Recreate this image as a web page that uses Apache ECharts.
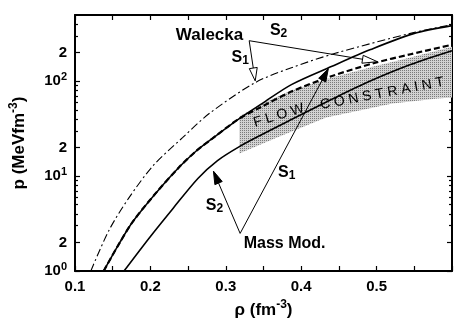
<!DOCTYPE html>
<html><head><meta charset="utf-8">
<script src="https://cdn.jsdelivr.net/npm/echarts@6/dist/echarts.min.js"></script>
<style>html,body{margin:0;padding:0;background:#fff}#c{width:468px;height:327px}</style>
</head><body><div id="c"></div>
<script>
// ---- data (rho in fm^-3, p in MeV fm^-3) ----
const waleckaS1 = [[0.121,1],[0.145,2.68],[0.171,5.83],[0.204,13.0],[0.243,25.6],[0.278,45.7],[0.339,96.9],[0.387,139],[0.444,196],[0.549,326],[0.600,395]];
const waleckaS2 = [[0.138,1],[0.158,1.91],[0.177,3.34],[0.208,6.74],[0.238,12.4],[0.260,18.2],[0.282,24.9],[0.316,39.5],[0.348,54.2],[0.387,77.9],[0.440,113],[0.496,155],[0.545,193],[0.600,243]];
const massModS1 = [[0.138,1],[0.158,1.91],[0.177,3.34],[0.208,6.74],[0.238,12.4],[0.260,18.2],[0.282,24.9],[0.316,39.5],[0.348,58.2],[0.387,92.3],[0.440,143],[0.492,216],[0.549,318],[0.600,386]];
const massModS2 = [[0.165,1],[0.199,2.26],[0.230,4.57],[0.263,9.46],[0.289,14.6],[0.318,20.5],[0.348,27.5],[0.387,39.5],[0.440,64.2],[0.490,99.3],[0.545,150],[0.600,210]];
const flowTop = [[0.318,42.5],[0.348,58.2],[0.387,79.8],[0.440,109],[0.496,143],[0.545,178],[0.600,232]];
const flowBottom = [[0.318,17.3],[0.368,25.5],[0.433,41.5],[0.521,58.2],[0.581,65.8],[0.600,67.4]];

// ---- ticks ----
const xTickValues = [0.1,0.15,0.2,0.25,0.3,0.35,0.4,0.45,0.5,0.55,0.6];
const xLabelValues = [0.1,0.2,0.3,0.4,0.5];
const xTickLabels = ['0.1','0.2','0.3','0.4','0.5'];
const yLabelValues = [1,2,10,20,100,200];
const yTickLabels = ['10^0','2','10^1','2','10^2','2'];
const yMinorTicks = [3,4,5,6,7,8,9,30,40,50,60,70,80,90,300,400];

// ---- annotations (data coordinates) ----
const waleckaJunction = [0.331,268];
const waleckaS1Tip = [0.339,101];
const waleckaS2Tip = [0.501,161];
const massJunction = [0.319,2.49];
const massS1Tip = [0.436,136];
const massS2Tip = [0.2836,11.3];
const textLabels = [
  {text:'{b|Walecka}', at:[0.2784,303], size:17, rot:0},
  {text:'{b|S}{u|2}', at:[0.370,342], size:16, rot:0},
  {text:'{b|S}{u|1}', at:[0.319,178], size:16, rot:0},
  {text:'{b|Mass Mod.}', at:[0.378,1.96], size:16, rot:0},
  {text:'{b|S}{u|1}', at:[0.3807,10.9], size:16, rot:0},
  {text:'{b|S}{u|2}', at:[0.285,4.92], size:16, rot:0},
  {text:'{n|F L O W}', at:[0.3702,43.5], size:14, rot:17},
  {text:'{n|C O N S T R A I N T}', at:[0.5073,74.2], size:14, rot:10.6}
];

const FONT = 'Liberation Sans';
const chart = echarts.init(document.getElementById('c'));

// stipple pattern for the flow band
const pc = document.createElement('canvas'); pc.width = 2; pc.height = 2;
const pctx = pc.getContext('2d');
pctx.fillStyle = '#d2d2d2'; pctx.fillRect(0,0,2,2);
pctx.fillStyle = '#7a7a7a'; pctx.fillRect(0,0,1,1);
const bandFill = {type:'pattern', image: pc, repeat:'repeat'};

function xFmt(v){
  const i = xLabelValues.findIndex(t => Math.abs(t - v) < 1e-6);
  return i < 0 ? '' : xTickLabels[i];
}
function yFmt(v){
  const i = yLabelValues.findIndex(t => Math.abs(t - v) / t < 1e-6);
  if (i < 0) return '';
  const s = yTickLabels[i];
  if (s.indexOf('^') >= 0) { const p = s.split('^'); return '{b|' + p[0] + '}{s|' + p[1] + '}'; }
  return '{b|' + s + '}';
}
const tickRich = {
  b:{fontSize:15, fontWeight:'bold', fontFamily:FONT, color:'#000'},
  s:{fontSize:11, fontWeight:'bold', fontFamily:FONT, color:'#000', padding:[0,0,9,0]}
};
const nameRich = {
  b:{fontSize:17, fontWeight:'bold', fontFamily:FONT, color:'#000'},
  s:{fontSize:12, fontWeight:'bold', fontFamily:FONT, color:'#000', padding:[0,0,10,0]}
};
const axLine = {show:true, onZero:false, lineStyle:{color:'#000', width:2}};
const tickStyle = {color:'#000', width:1.2};

const option = {
  backgroundColor:'#fff',
  animation:false,
  grid:{left:71, right:16, top:15, bottom:56, containLabel:false},
  xAxis:[
    {type:'value', min:0.1, max:0.6, interval:0.05, position:'bottom',
     axisLine:axLine,
     axisTick:{show:true, inside:true, length:5, lineStyle:tickStyle, customValues:xTickValues},
     axisLabel:{customValues:xLabelValues, formatter:xFmt, color:'#000', fontFamily:FONT, fontWeight:'bold', fontSize:15, margin:8},
     splitLine:{show:false},
     name:'{b|ρ (fm}{s|-3}{b|)}', nameLocation:'middle', nameGap:15,
     nameTextStyle:{rich:nameRich}},
    {type:'value', min:0.1, max:0.6, interval:0.05, position:'top',
     axisLine:axLine,
     axisTick:{show:true, inside:true, length:5, lineStyle:tickStyle, customValues:xTickValues},
     axisLabel:{show:false}, splitLine:{show:false}}
  ],
  yAxis:[
    {type:'log', logBase:10, min:1, max:500, position:'left',
     axisLine:axLine,
     axisTick:{show:true, inside:true, length:5, lineStyle:tickStyle, customValues:yLabelValues},
     axisLabel:{customValues:yLabelValues, formatter:yFmt, rich:tickRich, margin:8},
     splitLine:{show:false},
     name:'{b|p (MeVfm}{s|-3}{b|)}', nameLocation:'middle', nameGap:45, nameRotate:90,
     nameTextStyle:{rich:nameRich}},
    {type:'log', logBase:10, min:1, max:500, position:'left',
     axisLine:{show:false},
     axisTick:{show:true, inside:true, length:3, lineStyle:tickStyle, customValues:yMinorTicks},
     axisLabel:{show:false}, splitLine:{show:false}},
    {type:'log', logBase:10, min:1, max:500, position:'right',
     axisLine:axLine,
     axisTick:{show:true, inside:true, length:5, lineStyle:tickStyle, customValues:yLabelValues},
     axisLabel:{show:false}, splitLine:{show:false}},
    {type:'log', logBase:10, min:1, max:500, position:'right',
     axisLine:{show:false},
     axisTick:{show:true, inside:true, length:3, lineStyle:tickStyle, customValues:yMinorTicks},
     axisLabel:{show:false}, splitLine:{show:false}}
  ],
  series:[
    {type:'custom', name:'Flow constraint', xAxisIndex:0, yAxisIndex:0, z:1, clip:true,
     data:[[0.45,80]],
     renderItem:function(params, api){
       const pts = flowTop.map(d => api.coord(d)).concat(flowBottom.slice().reverse().map(d => api.coord(d)));
       return {type:'polygon', shape:{points:pts}, style:{fill:bandFill, stroke:null}};
     }},
    {type:'line', name:'Walecka S1', data:waleckaS1, xAxisIndex:0, yAxisIndex:0, showSymbol:false, smooth:0.3, z:3,
     lineStyle:{color:'#000', width:1.1, type:[8,3,2,3]}},
    {type:'line', name:'Walecka S2', data:waleckaS2, xAxisIndex:0, yAxisIndex:0, showSymbol:false, smooth:0.3, z:3,
     lineStyle:{color:'#000', width:2.2, type:[6,3]}},
    {type:'line', name:'Mass Mod. S1', data:massModS1, xAxisIndex:0, yAxisIndex:0, showSymbol:false, smooth:0.3, z:3,
     lineStyle:{color:'#000', width:1.6}},
    {type:'line', name:'Mass Mod. S2', data:massModS2, xAxisIndex:0, yAxisIndex:0, showSymbol:false, smooth:0.3, z:3,
     lineStyle:{color:'#000', width:1.6}}
  ]
};
chart.setOption(option);

function px(d){ return chart.convertToPixel({xAxisIndex:0, yAxisIndex:0}, d); }
function arrow(fromD, tipD, hollow, L, W){
  const a = px(fromD), t = px(tipD);
  const dx = t[0]-a[0], dy = t[1]-a[1], len = Math.hypot(dx,dy);
  const ux = dx/len, uy = dy/len, nx = -uy, ny = ux;
  const bx = t[0]-ux*L, by = t[1]-uy*L;
  return [
    {type:'line', shape:{x1:a[0], y1:a[1], x2:bx, y2:by}, style:{stroke:'#000', lineWidth:1}, z:10},
    {type:'polygon', shape:{points:[[t[0],t[1]],[bx+nx*W,by+ny*W],[bx-nx*W,by-ny*W]]},
     style:{fill: hollow ? '#fff' : '#000', stroke:'#000', lineWidth:1}, z:10}
  ];
}
const gfx = [];
gfx.push(...arrow(waleckaJunction, waleckaS1Tip, true, 13, 4));
gfx.push(...arrow(waleckaJunction, waleckaS2Tip, true, 15, 4));
gfx.push(...arrow(massJunction, massS1Tip, false, 13, 4));
gfx.push(...arrow(massJunction, massS2Tip, false, 13, 4));
textLabels.forEach(l => {
  const p = px(l.at);
  gfx.push({type:'text', x:p[0], y:p[1], rotation:l.rot*Math.PI/180, z:11,
    style:{text:l.text, align:'center', verticalAlign:'middle',
      rich:{
        b:{fontSize:l.size, fontWeight:'bold', fontFamily:FONT, fill:'#000'},
        u:{fontSize:Math.round(l.size*0.72), fontWeight:'bold', fontFamily:FONT, fill:'#000', padding:[7,0,0,0]},
        n:{fontSize:l.size, fontWeight:'normal', fontFamily:FONT, fill:'#000'}
      }}});
});
chart.setOption({graphic:{elements:gfx}});
</script></body></html>
